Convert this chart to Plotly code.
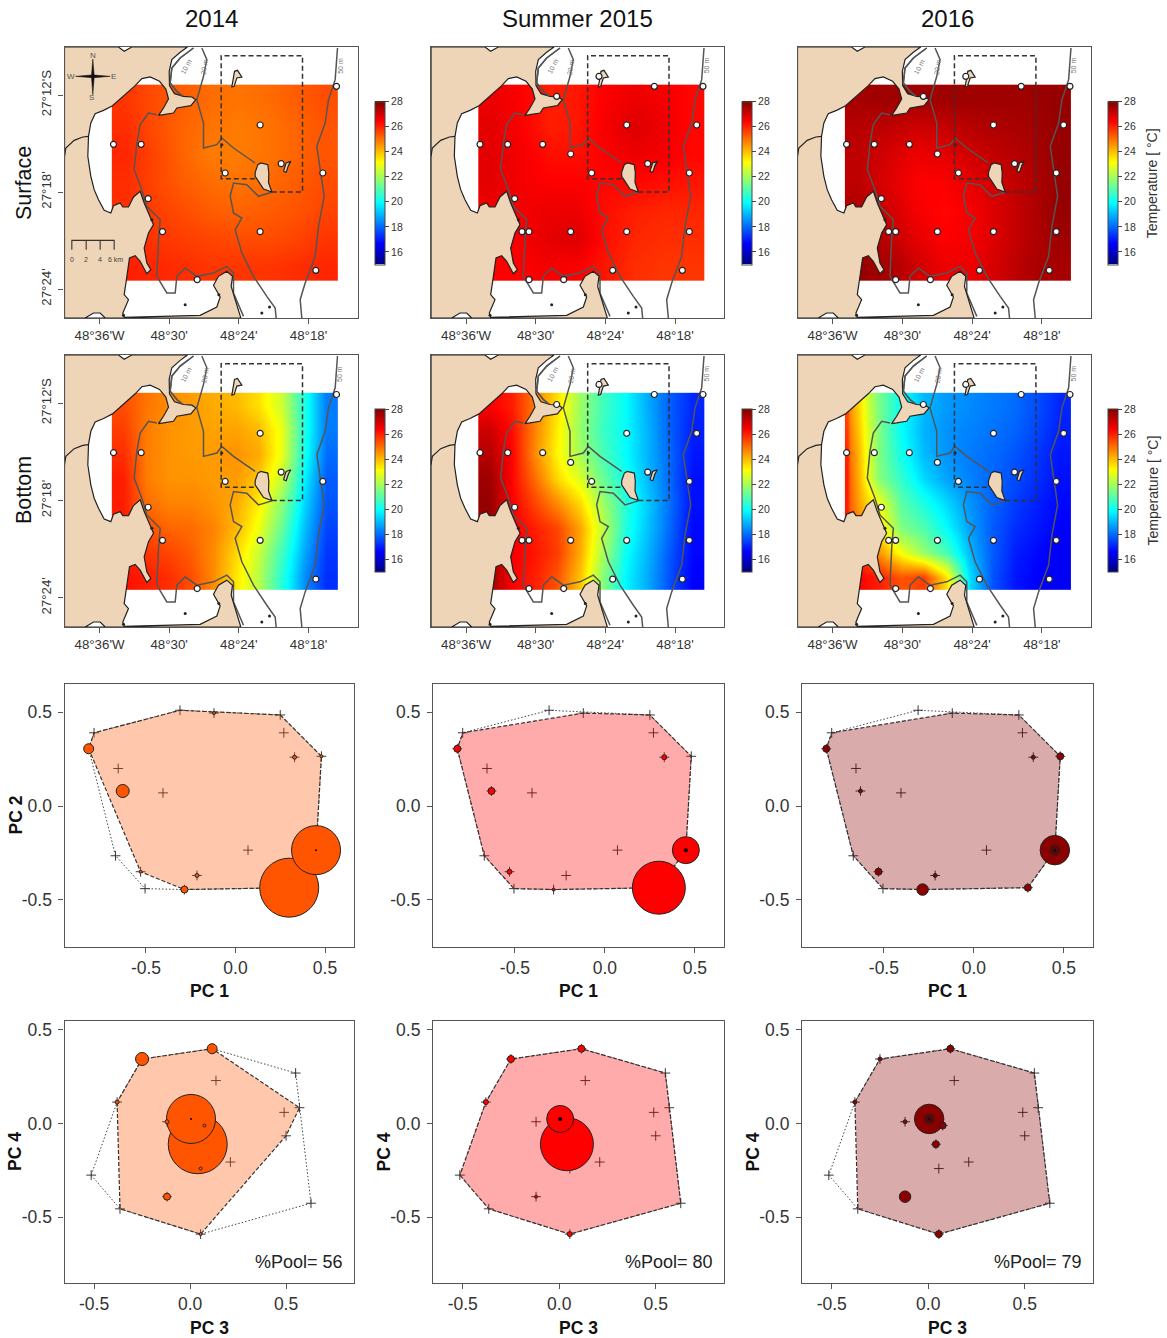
import plotly.graph_objects as go
import numpy as np

W, H = 1167, 1338
FONT = "Liberation Sans"
JET = [[0, "#00007F"], [.125, "#0000FF"], [.375, "#00FFFF"], [.625, "#FFFF00"], [.875, "#FF0000"], [1, "#7F0000"]]

# ---------- temperature fields (deg C), north row first ----------
SURF_2014 = [
 [25.7,25.4,25.2,25.0,24.9,25.0,25.2,25.4],
 [25.8,25.4,25.1,24.9,24.8,24.9,25.1,25.3],
 [25.9,25.5,25.1,24.8,24.8,24.9,25.1,25.3],
 [25.8,25.5,25.2,25.0,24.9,25.0,25.2,25.4],
 [25.8,25.6,25.4,25.2,25.1,25.2,25.3,25.5],
 [25.9,25.7,25.6,25.5,25.4,25.4,25.5,25.7],
 [26.0,25.9,25.8,25.7,25.7,25.7,25.8,25.9]]
SURF_2015 = [
 [26.6,26.4,26.0,26.1,26.4,26.6,26.5,26.3],
 [26.7,26.4,26.0,26.1,26.5,26.8,26.6,26.3],
 [26.7,26.5,26.2,26.2,26.4,26.6,26.5,26.3],
 [26.7,26.5,26.4,26.4,26.3,26.3,26.2,26.1],
 [26.6,26.5,26.6,26.6,26.2,26.0,25.9,25.9],
 [26.4,26.5,26.7,26.8,26.2,25.9,25.8,25.8],
 [26.4,26.4,26.5,26.4,26.1,25.8,25.7,25.7]]
SURF_2016 = [
 [27.5,27.6,27.6,27.6,27.6,27.6,27.6,27.7],
 [27.3,27.2,27.0,27.1,27.3,27.4,27.5,27.7],
 [27.2,26.9,26.6,26.7,27.0,27.2,27.4,27.7],
 [27.2,26.8,26.4,26.4,26.7,27.0,27.3,27.7],
 [27.4,27.0,26.5,26.3,26.5,26.9,27.3,27.7],
 [27.6,27.2,26.7,26.4,26.5,26.9,27.3,27.6],
 [27.7,27.5,27.0,26.6,26.6,27.0,27.4,27.5]]
BOT_2014 = [
 [25.4,24.9,24.6,24.4,24.2,24.0,23.5,22.5,20.3,18.2],
 [25.6,24.8,24.5,24.4,24.3,24.3,24.0,22.9,20.3,18.2],
 [25.8,24.8,24.5,24.4,24.4,24.5,24.2,22.9,20.2,18.0],
 [26.0,24.8,24.5,24.5,24.4,24.4,23.8,22.4,19.8,17.8],
 [26.0,25.0,24.7,24.7,24.5,24.2,23.3,21.7,19.4,17.7],
 [26.0,25.4,25.1,25.0,24.7,24.0,22.9,21.2,19.1,17.5],
 [26.1,25.7,25.5,25.2,24.6,23.6,22.4,20.7,18.8,17.3],
 [26.2,26.0,25.8,25.4,24.6,23.4,22.2,20.4,18.5,17.2]]
BOT_2015 = [
 [26.4,26.0,24.8,23.5,21.9,20.7,19.9,18.8,17.8,17.1],
 [27.0,26.2,24.7,23.3,21.8,20.6,19.9,18.9,17.8,17.0],
 [27.3,26.3,24.6,23.2,22.0,20.8,19.9,18.9,17.9,16.9],
 [27.6,26.3,25.0,23.6,22.7,21.2,20.1,19.0,17.9,16.8],
 [27.7,26.4,25.5,24.6,23.6,21.9,20.4,19.2,18.0,16.8],
 [27.5,26.5,26.0,25.5,24.3,22.3,20.3,19.1,17.9,16.7],
 [27.5,26.5,26.1,25.6,24.2,22.0,20.0,18.9,17.7,16.7],
 [27.6,26.4,26.0,25.3,23.9,21.6,19.8,18.8,17.6,16.6]]
BOT_2016 = [
 [25.4,23.6,21.4,20.0,19.0,18.6,18.4,18.2,18.0,17.6,17.1],
 [25.6,23.8,21.5,19.9,18.9,18.5,18.3,18.1,17.9,17.5,17.0],
 [25.9,24.0,21.5,20.1,19.0,18.5,18.2,18.0,17.7,17.3,16.9],
 [26.0,24.1,21.6,20.5,19.4,18.7,18.3,17.9,17.6,17.2,16.8],
 [26.0,24.3,23.0,21.0,20.2,19.4,18.5,17.9,17.4,17.0,16.7],
 [26.0,24.8,23.5,21.5,20.9,19.9,18.7,17.8,17.2,16.9,16.6],
 [26.2,25.6,24.5,23.0,21.8,20.8,19.0,17.8,17.0,16.7,16.5],
 [26.6,26.4,26.0,25.3,25.6,23.5,19.5,17.7,16.9,16.6,16.5]]
BOT_2016_EDGES = [335,350,403,471,539,606,674,742,810,878,945,1013]

# ---------- map geometry (image units, converted to lon/lat below) ----------
MAIN = [(193,142),(355,142),(372,155),(395,142),(562,142),(540,158),(515,180),(507,215),(508,258),(523,282),
 (550,290),(575,292),(587,300),(572,318),(530,325),(520,340),(490,345),(475,347),(490,325),(505,298),(497,268),
 (478,245),(450,232),(425,237),(405,258),(375,285),(337,318),(310,332),(285,342),(272,370),(265,410),(263,470),
 (272,530),(282,570),(295,600),(312,632),(332,640),(340,618),(360,610),(368,622),(385,622),(400,592),(420,575),
 (432,610),(445,640),(460,675),(445,700),(432,745),(440,790),(452,810),(440,822),(420,785),(405,768),(388,775),
 (378,845),(372,885),(385,900),(368,940),(372,953),(545,950),(600,947),(650,922),(660,892),(640,857),(655,830),
 (680,815),(697,830),(693,860),(705,900),(722,955),(193,955),(193,142)]
ISLANDS = [
 [(765,518),(773,495),(782,490),(803,495),(806,520),(805,548),(815,577),(790,568),(775,545),(765,530),(765,518)],
 [(697,250),(703,215),(712,212),(725,232),(710,235),(702,260),(695,262),(697,250)],
 [(850,515),(858,490),(872,485),(865,497),(858,518),(850,515)]]
NOTCH = [(255,955),(280,940),(300,940),(315,955),(255,955)]
RIVER = [(193,470),(197,445),(222,422),(248,412),(265,410)]
ROCKS = [(555,915),(785,940),(808,922),(656,885),(455,660),(370,947),(665,435)]
ISO10 = [(580,145),(540,175),(515,205),(510,250),(530,275),(548,290)]
ISO10B = [(470,345),(445,340),(420,375),(410,430),(402,510),(425,570),(440,620),(480,660),(475,720),(470,830),
 (500,880),(525,880),(530,830),(555,805),(590,830),(640,820),(680,800),(700,820),(700,880),(730,950)]
ISO20 = [(605,145),(620,180),(610,230),(590,300),(610,370),(610,445),(650,435),(665,415),(700,445),(765,490)]
ISO20B = [(815,578),(775,590),(740,555),(700,550),(690,590),(700,640),(725,655),(705,690),(725,760),(760,830),
 (800,890),(825,925),(828,955)]
ISO50 = [(1012,145),(1005,240),(985,300),(975,370),(950,440),(960,510),(972,590),(955,680),(945,770),(915,850),
 (900,900),(905,955)]
BOX = [(815,577),(907,577),(907,168),(663,168),(663,537),(765,537)]
ST_2014 = [(340,434),(423,434),(444,597),(487,696),(591,840),(675,520),(780,376),(843,492),(968,520),(780,696),(947,812),(1009,260)]
ST_ALL = [(340,434),(423,434),(528,434),(612,463),(444,597),(466,696),(487,696),(612,696),(780,696),(968,696),(738,812),
 (947,812),(487,840),(591,840),(675,520),(780,376),(863,260),(1009,260),(990,376),(968,520),(843,492),(697,230),(570,290)]
COMPASS = [(278,178),(282,226),(330,230),(282,234),(278,285),(274,234),(226,230),(274,226),(278,178)]
SCALE = [(215,750),(215,722),(258,722),(258,750),(258,722),(300,722),(300,750),(300,722),(342,722),(342,750)]
HEAT_X = (335, 1013)
HEAT_Y = (255, 843)
LON_TICKS = [-36, -30, -24, -18]
LON_LABELS = ["48°36'W", "48°30'", "48°24'", "48°18'"]
LAT_TICKS = [-12, -18, -24]
LAT_LABELS = ["27°12'S", "27°18'", "27°24'"]
COL_TITLES = ["2014", "Summer 2015", "2016"]

# ---------- ordination: species scores ----------
SPECIES = list("ABCDEFGHIJKLMNOPQRS")
PC1 = [-.79,-.31,-.12,.25,.27,.33,.48,-.82,-.655,-.63,-.405,-.67,-.53,-.505,-.285,-.215,.07,.30,.45]
PC2 = [.39,.51,.495,.485,.39,.26,.265,.305,.20,.08,.07,-.265,-.35,-.44,-.445,-.37,-.235,-.435,-.235]
PC3 = [-.365,.57,.055,.135,.49,-.38,.075,.115,.50,-.25,-.515,.55,.055,.63,-.12,-.12,.21,.04,.005]
PC4 = [-.455,.085,-.24,.23,.06,.115,-.01,.40,-.065,.345,-.275,.27,-.59,-.425,-.39,.01,-.205,-.11,.025]
# circle diameters by species, one row per year (0 = only a cross)
SIZE_2014 = [0,0,3,0,0,4,3,10,0,13,0,0,3,0,7,4,0,59,49]
SIZE_2015 = [0,0,0,0,0,5,0,7,0,7,0,0,5,0,3,0,0,53,27]
SIZE_2016 = [0,0,0,0,0,4,7,7,0,4,0,0,7,0,11.5,4,0,7,29.5]
ABSENT = [set("KLN"), set("B"), set("BK")]
CORE_S = [[2], [4], [10, 3]]
FILLS = ["rgba(255,85,0,0.33)", "rgba(255,0,0,0.33)", "rgba(139,0,0,0.33)"]
DOTS = ["#FF5500", "#FF0000", "#8B0000"]
POOL = ["56", "80", "79"]

# ---------- helpers ----------
def lon(z): return -36 + (z - 298) * 6 / 209
def lat(z): return -12 - (z - 286) * 6 / 291
def xy(pts):
    return [lon(p[0]) for p in pts], [lat(p[1]) for p in pts]

def hull(xs, ys):
    p = sorted(set(zip(xs, ys)))
    def half(pp):
        o = []
        for q in pp:
            while len(o) > 1 and (o[-1][0]-o[-2][0])*(q[1]-o[-2][1]) - (o[-1][1]-o[-2][1])*(q[0]-o[-2][0]) <= 0:
                o.pop()
            o.append(q)
        return o[:-1]
    h = half(p) + half(p[::-1])
    h.append(h[0])
    return [a for a, _ in h], [b for _, b in h]

fig = go.Figure()
layout = {}
ann = []

def axes(n, l, r, t, b):
    sx = "" if n == 1 else str(n)
    layout["xaxis" + sx] = dict(domain=[l / W, r / W], anchor="y" + sx, showgrid=False, zeroline=False,
        showline=True, mirror=True, linecolor="#555", linewidth=1.2, ticks="outside", ticklen=5, tickwidth=1,
        tickcolor="#555", tickfont=dict(family=FONT, color="#333"))
    layout["yaxis" + sx] = dict(domain=[1 - b / H, 1 - t / H], anchor="x" + sx, showgrid=False, zeroline=False,
        showline=True, mirror=True, linecolor="#555", linewidth=1.2, ticks="outside", ticklen=5, tickwidth=1,
        tickcolor="#555", tickfont=dict(family=FONT, color="#333"))
    return "x" + sx, "y" + sx, sx

def text(s, x, y, size, xref="paper", yref="paper", angle=0, color="#111", bold=False, xanchor="center"):
    ann.append(dict(text=("<b>%s</b>" % s) if bold else s, x=x, y=y, xref=xref, yref=yref, showarrow=False,
                    textangle=angle, xanchor=xanchor, yanchor="middle",
                    font=dict(family=FONT, size=size, color=color)))

def pad(px, py):
    return px / W, 1 - py / H

MAP_COLS = [(64.5, 357.5), (431, 724), (797.5, 1091)]
MAP_ROWS = [(47, 318), (355, 627)]
CB_X = [375, 741.5, 1108]
CB_Y = [(102, 264.5), (409, 572)]
FIELDS = [[SURF_2014, SURF_2015, SURF_2016], [BOT_2014, BOT_2015, BOT_2016]]

n = 0
for r, (t, b) in enumerate(MAP_ROWS):
    for c, (lft, rgt) in enumerate(MAP_COLS):
        n += 1
        xa, ya, sx = axes(n, lft, rgt, t, b)
        layout["xaxis" + sx].update(range=[lon(193), lon(1072)], tickvals=LON_TICKS, ticktext=LON_LABELS)
        layout["xaxis" + sx]["tickfont"]["size"] = 13.3
        layout["yaxis" + sx].update(range=[lat(955), lat(142)])
        if c == 0:
            layout["yaxis" + sx].update(tickvals=LAT_TICKS, ticktext=LAT_LABELS, tickangle=-90, ticklabelstandoff=2)
            layout["yaxis" + sx]["tickfont"]["size"] = 13.3
        else:
            layout["yaxis" + sx].update(ticks="", showticklabels=False)
        z = FIELDS[r][c]
        nr, nc = len(z), len(z[0])
        edges = BOT_2016_EDGES if z is BOT_2016 else np.linspace(HEAT_X[0], HEAT_X[1], nc + 1)
        ex = [lon(v) for v in edges]
        ey = [lat(v) for v in np.linspace(HEAT_Y[1], HEAT_Y[0], nr + 1)]
        fig.add_trace(go.Heatmap(z=z[::-1], x=ex, y=ey, xaxis=xa, yaxis=ya, zmin=15, zmax=28, colorscale=JET,
            zsmooth="best", hoverinfo="skip",
            colorbar=dict(x=CB_X[c] / W, xanchor="left", xpad=0, y=1 - CB_Y[r][1] / H, yanchor="bottom", ypad=0,
                lenmode="pixels", len=CB_Y[r][1] - CB_Y[r][0], thicknessmode="pixels", thickness=9.5,
                tickvals=list(range(16, 29, 2)), ticks="outside", ticklen=4, tickwidth=1, tickcolor="#444",
                outlinecolor="#444", outlinewidth=1, tickfont=dict(family=FONT, size=10.5, color="#333"))))
        if c == 2:
            px, py = pad(1152, sum(CB_Y[r]) / 2)
            text("Temperature [ °C]", px, py, 14, angle=-90, color="#333")
        def line(pts, color, width, dash="solid"):
            x_, y_ = xy(pts)
            fig.add_trace(go.Scatter(x=x_, y=y_, xaxis=xa, yaxis=ya, mode="lines", hoverinfo="skip",
                                     line=dict(color=color, width=width, dash=dash), showlegend=False))
        def poly(pts, fill, lc, lw=1.2):
            x_, y_ = xy(pts)
            fig.add_trace(go.Scatter(x=x_, y=y_, xaxis=xa, yaxis=ya, mode="lines", fill="toself", fillcolor=fill,
                                     hoverinfo="skip", line=dict(color=lc, width=lw), showlegend=False))
        for iso in (ISO10, ISO10B, ISO20, ISO20B, ISO50):
            line(iso, "#555", 1.5)
        poly(MAIN, "#EED5B7", "#222")
        poly(NOTCH, "#FFFFFF", "#222")
        for isl in ISLANDS:
            poly(isl, "#EED5B7", "#222")
        line(RIVER, "#222", 1.2)
        line(ISO10, "#555", 1.5)
        x_, y_ = xy(ROCKS)
        fig.add_trace(go.Scatter(x=x_, y=y_, xaxis=xa, yaxis=ya, mode="markers", hoverinfo="skip", showlegend=False,
                                 marker=dict(color="#222", size=3)))
        line(BOX, "#333", 1.5, "5px,3px")
        st = ST_2014 if c == 0 else ST_ALL
        x_, y_ = xy(st)
        fig.add_trace(go.Scatter(x=x_, y=y_, xaxis=xa, yaxis=ya, mode="markers", hoverinfo="skip", showlegend=False,
                                 marker=dict(color="white", size=6, line=dict(color="#222", width=1.2))))
        for lbl, zx, zy, ang in (("10 m", 558, 200, -62), ("20 m", 614, 202, -80), ("50 m", 1020, 198, -90)):
            text(lbl, lon(zx), lat(zy), 7, xa, ya, ang, "#777")
        if n == 1:
            poly(COMPASS, "#111", "#111", 0.5)
            line(SCALE, "#333", 1.1)
            for lbl, zx in (("0", 215), ("2", 258), ("4", 300), ("6 km", 345)):
                text(lbl, lon(zx), lat(780), 7, xa, ya, 0, "#444")
            for lbl, zx, zy in (("N", 277, 168), ("S", 275, 295), ("W", 213, 232), ("E", 340, 232)):
                text(lbl, lon(zx), lat(zy), 8, xa, ya, 0, "#555")

PC_COLS = [(64.5, 354), (433, 724), (802, 1093)]
PC_ROWS = [(684, 947, PC1, PC2, [-.955, .662], [-.751, .65]), (1021, 1283, PC3, PC4, [-.654, .854], [-.851, .548])]
SIZES = [SIZE_2014, SIZE_2015, SIZE_2016]

for r, (t, b, X, Y, xr, yr) in enumerate(PC_ROWS):
    for c, (lft, rgt) in enumerate(PC_COLS):
        n += 1
        xa, ya, sx = axes(n, lft, rgt, t, b)
        for key, rng in (("xaxis", xr), ("yaxis", yr)):
            layout[key + sx].update(range=rng, tickvals=[-.5, 0, .5], ticktext=["-0.5", "0.0", "0.5"])
            layout[key + sx]["tickfont"]["size"] = 17.5
        layout["yaxis" + sx]["ticklabelstandoff"] = 3
        fig.add_trace(go.Scatter(x=X, y=Y, xaxis=xa, yaxis=ya, mode="markers", hoverinfo="skip", showlegend=False,
                                 marker=dict(symbol="cross-thin", size=7, line=dict(color="#222", width=0.9))))
        hx, hy = hull(X, Y)
        fig.add_trace(go.Scatter(x=hx, y=hy, xaxis=xa, yaxis=ya, mode="lines", hoverinfo="skip", showlegend=False,
                                 line=dict(color="#444", width=1, dash="1.5px,2px")))
        keep = [i for i, s in enumerate(SPECIES) if s not in ABSENT[c]]
        hx, hy = hull([X[i] for i in keep], [Y[i] for i in keep])
        fig.add_trace(go.Scatter(x=hx, y=hy, xaxis=xa, yaxis=ya, mode="lines", fill="toself", fillcolor=FILLS[c],
                                 hoverinfo="skip", showlegend=False, line=dict(color="#333", width=1.2, dash="4px,2px")))
        order = sorted([i for i, v in enumerate(SIZES[c]) if v > 0], key=lambda i: -SIZES[c][i])
        fig.add_trace(go.Scatter(x=[X[i] for i in order], y=[Y[i] for i in order], xaxis=xa, yaxis=ya, mode="markers",
                                 hoverinfo="skip", showlegend=False,
                                 marker=dict(color=DOTS[c], size=[SIZES[c][i] for i in order], opacity=1,
                                             line=dict(color="#222", width=1))))
        si = SPECIES.index("S")
        cs = CORE_S[c]
        fig.add_trace(go.Scatter(x=[X[si]] * len(cs), y=[Y[si]] * len(cs), xaxis=xa, yaxis=ya, mode="markers",
                                 hoverinfo="skip", showlegend=False,
                                 marker=dict(color=["#6B0000" if v > 5 else "#000000" for v in cs], size=cs, opacity=1,
                                             line=dict(color="#222", width=1 if max(cs) > 5 else 0))))
        mid = (lft + rgt) / 2
        px, py = pad(mid, 991 if r == 0 else 1328)
        text("PC %d" % (1 if r == 0 else 3), px, py, 17.5, bold=True)
        if r == 1 or c == 0:
            px, py = pad(lft - 49.5, (t + b) / 2)
            text("PC %d" % (2 if r == 0 else 4), px, py, 17.5, angle=-90, bold=True)
        if r == 1:
            px, py = pad(rgt - 9, 1262)
            text("%%Pool= %s" % POOL[c], px, py, 18, color="#222", xanchor="right")

for i, (s, cx) in enumerate(zip(COL_TITLES, (211, 577, 947))):
    px, py = pad(cx, 18)
    text(s, px, py, 24)
for s, cy in (("Surface", 183), ("Bottom", 490)):
    px, py = pad(24, cy)
    text(s, px, py, 21.5, angle=-90)

fig.update_layout(width=W, height=H, autosize=False, showlegend=False, paper_bgcolor="white", plot_bgcolor="white",
                  margin=dict(l=0, r=0, t=0, b=0, autoexpand=False), annotations=ann, **layout)
fig.write_html("out.html", config=dict(displayModeBar=False),
               post_script="document.body.style.margin='0';document.body.style.overflow='hidden';")
